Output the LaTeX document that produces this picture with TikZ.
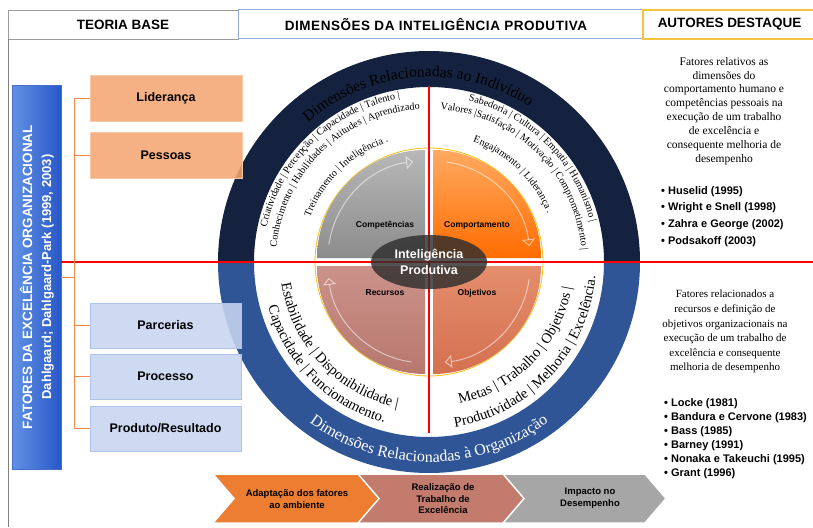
\documentclass[tikz,border=0pt]{standalone}
\usepackage{fontspec}
\setmainfont{Liberation Serif}
\setsansfont{Liberation Sans}
\usetikzlibrary{decorations.text,calc,arrows.meta,shapes.geometric}
\definecolor{navy}{HTML}{14223F}
\definecolor{ringblue}{HTML}{2F5597}
\definecolor{connc}{HTML}{F08A4B}
\definecolor{obox}{HTML}{F4A672}
\definecolor{oboxd}{HTML}{F7C9A5}
\definecolor{bbox}{HTML}{C8D5F1}
\definecolor{bboxd}{HTML}{AFC2E8}
\definecolor{hgray}{HTML}{9B9B9B}
\definecolor{hblue}{HTML}{8FAADC}
\definecolor{hyel}{HTML}{F5C342}
\definecolor{golden}{HTML}{F5C018}
\definecolor{chevo}{HTML}{ED7D31}
\definecolor{chevr}{HTML}{C27B6D}
\definecolor{chevg}{HTML}{A6A6A6}
\begin{document}
\begin{tikzpicture}[x=1pt,y=1pt,
  hdr/.style={font=\sffamily\bfseries\fontsize{13.5}{15}\selectfont, inner sep=0pt},
  obx/.style={minimum width=152pt, minimum height=46pt, inner sep=0pt, fill=obox, draw=oboxd, line width=0.8pt, fill opacity=0.88, text opacity=1, font=\sffamily\bfseries\fontsize{12.5}{14}\selectfont},
  bbx/.style={obx, fill=bbox, draw=bboxd, minimum width=151pt, minimum height=45pt},
  conn/.style={draw=connc, line width=0.9pt},
  qlab/.style={font=\sffamily\bfseries\fontsize{8.5}{10}\selectfont, inner sep=0pt},
  bul/.style={font=\sffamily\bfseries\fontsize{11}{16.8}\selectfont, align=left, inner sep=0pt, anchor=north west},
  desc/.style={font=\fontsize{11.5}{13.9}\selectfont, align=center, inner sep=0pt, anchor=north},
  chevshape/.style={draw=white, line width=1.5pt},
  chevt/.style={font=\sffamily\bfseries\fontsize{9.5}{11.5}\selectfont, align=center, inner sep=0pt},
  qarrow/.style={draw=white, draw opacity=0.55, line width=1pt, -{Triangle[open,length=7pt,width=13pt]}}
]
\useasboundingbox (0,0) rectangle (813,-527);
\fill[white] (0,0) rectangle (813,-527);
\coordinate (C) at (429,-262);

% header
\draw[hgray, line width=0.8pt] (8,-10) rectangle (238,-39);
\draw[hblue, line width=1pt] (238,-10) rectangle (643,-39);
\draw[hyel, line width=1.2pt] (643,-10) rectangle (815,-39);
\draw[gray, line width=0.8pt] (8,-39) -- (8,-527);
\node (h1) [hdr] at (123,-24.5) {TEORIA BASE};
\node (h2) [hdr] at (436,-24.5) {\addfontfeature{LetterSpace=4}DIMENSÕES DA INTELIGÊNCIA PRODUTIVA};
\node (h3) [hdr] at (729.5,-24.5) {AUTORES DESTAQUE};

% ring
\fill[navy] ($(C)+(0:211)$) arc[start angle=0,end angle=180,radius=211] -- ($(C)+(180:175)$) arc[start angle=180,end angle=0,radius=175] -- cycle;
\fill[ringblue] ($(C)+(180:211)$) arc[start angle=180,end angle=360,radius=211] -- ($(C)+(0:175)$) arc[start angle=360,end angle=180,radius=175] -- cycle;

% ring texts
\path[decorate,decoration={text along path,text align=center,
  text={|\fontsize{15.5}{17}\selectfont|Dimensões Relacionadas ao Indivíduo}}]
  ($(C)+(174:185)$) arc[start angle=174,end angle=14,radius=185];
\path[decorate,decoration={text along path,text align=center,text color=white,
  text={|\fontsize{16}{18}\selectfont|Dimensões Relacionadas à Organização}}]
  ($(C)+(180:200)$) arc[start angle=180,end angle=360,radius=200];

% top-left texts
\path[decorate,decoration={text along path,text align=center,
  text={|\fontsize{10.2}{12}\selectfont|Criatividade {\textbar} Percepção {\textbar} Capacidade {\textbar} Talento {\textbar}}}]
  ($(C)+(196:166)$) arc[start angle=196,end angle=72,radius=166];
\path[decorate,decoration={text along path,text align=center,
  text={|\fontsize{10.2}{12}\selectfont|Conhecimento {\textbar} Habilidades {\textbar} Atitudes {\textbar} Aprendizado}}]
  ($(C)+(196:153)$) arc[start angle=196,end angle=72,radius=153];
\path[decorate,decoration={text along path,text align=center,
  text={|\fontsize{10.2}{12}\selectfont|Treinamento {\textbar} Inteligência .}}]
  ($(C)+(196:127)$) arc[start angle=196,end angle=72,radius=127];

% top-right texts
\path[decorate,decoration={text along path,text align=center,
  text={|\fontsize{10.2}{12}\selectfont|Sabedoria {\textbar} Cultura {\textbar} Empatia {\textbar} Humanismo {\textbar}}}]
  ($(C)+(107:166)$) arc[start angle=107,end angle=-17,radius=166];
\path[decorate,decoration={text along path,text align=center,
  text={|\fontsize{10.2}{12}\selectfont|Valores {\textbar}Satisfação {\textbar} Motivação {\textbar} Comprometimento {\textbar}}}]
  ($(C)+(107:153)$) arc[start angle=107,end angle=-17,radius=153];
\path[decorate,decoration={text along path,text align=center,
  text={|\fontsize{10.2}{12}\selectfont|Engajamento {\textbar} Liderança .}}]
  ($(C)+(108:128)$) arc[start angle=108,end angle=-16,radius=128];

% bottom-left texts
\path[decorate,decoration={text along path,text align=center,
  text={|\fontsize{14.5}{16}\selectfont|Estabilidade {\textbar} Disponibilidade {\textbar}}}]
  ($(C)+(163:149)$) arc[start angle=163,end angle=283,radius=149];
\path[decorate,decoration={text along path,text align=center,
  text={|\fontsize{14.5}{16}\selectfont|Capacidade {\textbar} Funcionamento.}}]
  ($(C)+(165:167)$) arc[start angle=165,end angle=285,radius=167];

% bottom-right texts
\path[decorate,decoration={text along path,text align=center,
  text={|\fontsize{14.5}{16}\selectfont|Metas {\textbar} Trabalho {\textbar} Objetivos {\textbar}}}]
  ($(C)+(256:145)$) arc[start angle=256,end angle=376,radius=145];
\path[decorate,decoration={text along path,text align=center,
  text={|\fontsize{14.5}{16}\selectfont|Produtividade {\textbar} Melhoria {\textbar} Excelência.}}]
  ($(C)+(257:167)$) arc[start angle=257,end angle=377,radius=167];

% inner golden circle
\draw[golden, line width=0.8pt] (C) circle[radius=114];

% quadrants
\shade[top color=black!28, bottom color=black!45] ($(C)+(-4,4)$) -- ++(180:108) arc[start angle=180,end angle=90,radius=108] -- cycle;
\shade[top color=orange!60!white!95!red, bottom color=orange!85!red] ($(C)+(4,4)$) -- ++(90:108) arc[start angle=90,end angle=0,radius=108] -- cycle;
\shade[top color={rgb,255:red,203;green,146;blue,138}, bottom color={rgb,255:red,183;green,120;blue,110}] ($(C)+(-4,-4)$) -- ++(270:108) arc[start angle=270,end angle=180,radius=108] -- cycle;
\shade[top color={rgb,255:red,228;green,142;blue,108}, bottom color={rgb,255:red,212;green,112;blue,80}] ($(C)+(4,-4)$) -- ++(0:108) arc[start angle=0,end angle=-90,radius=108] -- cycle;

% cycle arrows
\draw[qarrow] ($(C)+(-4,4)+(172:97)$) arc[start angle=172,end angle=97,radius=97];
\draw[qarrow] ($(C)+(4,4)+(82:97)$) arc[start angle=82,end angle=7,radius=97];
\draw[qarrow] ($(C)+(-4,-4)+(262:97)$) arc[start angle=262,end angle=187,radius=97];
\draw[qarrow] ($(C)+(4,-4)+(352:97)$) arc[start angle=352,end angle=277,radius=97];

% quadrant labels
\node (qc) [qlab] at (385,-225) {Competências};
\node (qb) [qlab] at (477,-225) {Comportamento};
\node (qr) [qlab] at (385,-293) {Recursos};
\node (qo) [qlab] at (477,-293) {Objetivos};

% left blue box
\node (lbox) [minimum width=49pt, minimum height=384pt, inner sep=0pt, left color={rgb,255:red,98;green,145;blue,228}, right color={rgb,255:red,40;green,88;blue,200}, draw={rgb,255:red,70;green,110;blue,200}, line width=0.6pt] at (36.5,-277) {};
\node (lbt) [rotate=90, text=white, align=center, inner sep=0pt, font=\sffamily\bfseries\fontsize{13.5}{19}\selectfont] at (37,-277) {FATORES DA EXCELÊNCIA ORGANIZACIONAL\\{\fontsize{13}{19}\selectfont Dahlgaard; Dahlgaard-Park (1999, 2003)}};

% red axes
\draw[red, line width=2.5pt] (lbox.east |- C) -- (813,-262);
\draw[red, line width=2.5pt] (429,-86) -- (429,-433);

% centre ellipse
\node (ip) [ellipse, minimum width=116pt, minimum height=54pt, inner sep=0pt, fill=black!82, fill opacity=0.82, text opacity=1, text=white, align=center, font=\sffamily\bfseries\fontsize{12.5}{16}\selectfont] at (C) {Inteligência\\Produtiva};

% factor boxes
\node (lid) [obx] at (166,-98) {Liderança};
\node (pes) [obx] at (166,-155) {Pessoas};
\node (par) [bbx] at (165.5,-325.5) {Parcerias};
\node (pro) [bbx] at (165.5,-376.5) {Processo};
\node (prd) [bbx] at (165.5,-428.5) {Produto/Resultado};

% connectors
\coordinate (bus) at (74,0);
\draw[conn] (lid.west) -- (lid.west -| bus) -- (prd.west -| bus) -- (prd.west);
\draw[conn] (pes.west) -- (pes.west -| bus);
\draw[conn] (par.west) -- (par.west -| bus);
\draw[conn] (pro.west) -- (pro.west -| bus);
\draw[conn] (lbox.east) -- (lbox.east -| bus);

% right texts
\node (d1) [desc] at (724,-57) {Fatores relativos as\\dimensões do\\comportamento humano e\\competências pessoais na\\execução de um trabalho\\de excelência e\\consequente melhoria de\\desempenho};
\node (b1) [bul] at (661,-186) {• Huselid (1995)\\• Wright e Snell (1998)\\• Zahra e George (2002)\\• Podsakoff (2003)};
\node (d2) [desc, font=\fontsize{11}{14.6}\selectfont] at (725,-290) {Fatores relacionados a\\recursos e definição de\\objetivos organizacionais na\\execução de um trabalho de\\excelência e consequente\\melhoria de desempenho};
\node (b2) [bul, font=\sffamily\bfseries\fontsize{11}{14}\selectfont] at (664,-398) {• Locke (1981)\\• Bandura e Cervone (1983)\\• Bass (1985)\\• Barney (1991)\\• Nonaka e Takeuchi (1995)\\• Grant (1996)};

% bottom chevrons
\filldraw[chevshape, fill=chevo] (213,-474) -- (360,-474) -- (381,-498.5) -- (360,-523) -- (213,-523) -- (234,-498.5) -- cycle;
\filldraw[chevshape, fill=chevr] (358,-474) -- (505,-474) -- (526,-498.5) -- (505,-523) -- (358,-523) -- (379,-498.5) -- cycle;
\filldraw[chevshape, fill=chevg] (503,-474) -- (645,-474) -- (666,-498.5) -- (645,-523) -- (503,-523) -- (524,-498.5) -- cycle;
\node (c1) [chevt] at (297,-499) {Adaptação dos fatores\\ao ambiente};
\node (c2) [chevt] at (443,-499) {Realização de\\Trabalho de\\Excelência};
\node (c3) [chevt] at (590,-498) {Impacto no\\Desempenho};
\end{tikzpicture}
\end{document}
